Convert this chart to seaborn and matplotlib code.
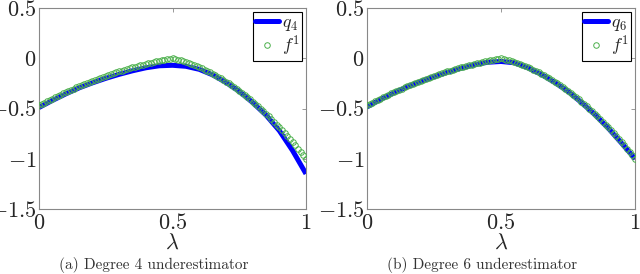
import numpy as np
import pandas as pd
import matplotlib
matplotlib.use("Agg")
import matplotlib.pyplot as plt
import seaborn as sns
from matplotlib.lines import Line2D

sns.set_style("white")
plt.rcParams["mathtext.fontset"] = "cm"
plt.rcParams["font.family"] = ["cmr10", "DejaVu Serif"]

# ---- data ----
lam_f = [i / 100 for i in range(101)]
f1 = [-0.470, -0.456, -0.442, -0.428, -0.415, -0.402, -0.389, -0.376, -0.363, -0.350,
      -0.338, -0.325, -0.314, -0.302, -0.291, -0.279, -0.268, -0.257, -0.246, -0.235,
      -0.225, -0.215, -0.205, -0.195, -0.185, -0.176, -0.166, -0.157, -0.148, -0.140,
      -0.131, -0.123, -0.115, -0.107, -0.099, -0.091, -0.084, -0.077, -0.069, -0.063,
      -0.056, -0.050, -0.043, -0.037, -0.031, -0.026, -0.020, -0.015, -0.010, -0.005,
      0.000,
      -0.006, -0.013, -0.021, -0.028, -0.037, -0.046, -0.056, -0.066, -0.077, -0.088,
      -0.100, -0.112, -0.125, -0.139, -0.153, -0.168, -0.183, -0.199, -0.215, -0.232,
      -0.249, -0.268, -0.286, -0.305, -0.325, -0.345, -0.366, -0.388, -0.409, -0.432,
      -0.455, -0.479, -0.503, -0.528, -0.553, -0.579, -0.605, -0.632, -0.660, -0.688,
      -0.717, -0.746, -0.776, -0.806, -0.837, -0.868, -0.901, -0.933, -0.966, -1.000]

lam_q = [0.00, 0.05, 0.10, 0.15, 0.20, 0.25, 0.30, 0.35, 0.40, 0.45, 0.50,
         0.55, 0.60, 0.65, 0.70, 0.75, 0.80, 0.85, 0.90, 0.95, 1.00]
q4 = [-0.490, -0.420, -0.355, -0.295, -0.245, -0.200, -0.160, -0.125, -0.095, -0.075, -0.070,
      -0.080, -0.110, -0.165, -0.240, -0.330, -0.440, -0.565, -0.720, -0.920, -1.150]
q6 = [-0.485, -0.410, -0.345, -0.285, -0.232, -0.185, -0.140, -0.100, -0.065, -0.040, -0.032,
      -0.045, -0.095, -0.160, -0.240, -0.330, -0.440, -0.560, -0.695, -0.845, -1.000]

x_ticks = [0, 0.5, 1]
x_ticklabels = ["$0$", "$0.5$", "$1$"]
y_ticks = [0.5, 0, -0.5, -1, -1.5]
y_ticklabels = ["$0.5$", "$0$", "$-0.5$", "$-1$", "$-1.5$"]
panels = [("$q_4$", q4, "(a) Degree 4 underestimator"),
          ("$q_6$", q6, "(b) Degree 6 underestimator")]

blue = "#0000ff"
green = "#4cb04c"
spine_gray = "#888888"

fig = plt.figure(figsize=(6.4, 2.74), dpi=100)
rects = [[39 / 640, 65 / 274, 267 / 640, 201 / 274],
         [367 / 640, 65 / 274, 268 / 640, 201 / 274]]
cap_x = [154 / 640, 482 / 640]

df_f = pd.DataFrame({"lam": lam_f, "f": f1})

for (qlab, qvals, caption), rect, cx in zip(panels, rects, cap_x):
    ax = fig.add_axes(rect)
    df_q = pd.DataFrame({"lam": lam_q, "q": qvals})
    sns.lineplot(data=df_q, x="lam", y="q", ax=ax, color=blue, lw=3.6,
                 solid_capstyle="butt", zorder=2)
    sns.lineplot(data=df_f, x="lam", y="f", ax=ax, linestyle="none", marker="o",
                 markersize=4.0, markerfacecolor="none", markeredgecolor=green,
                 markeredgewidth=0.7, color=green, zorder=3)
    ax.set_xlim(0, 1)
    ax.set_ylim(-1.5, 0.5)
    ax.set_xticks(x_ticks)
    ax.set_xticklabels(x_ticklabels, fontsize=16)
    ax.set_yticks(y_ticks)
    ax.set_yticklabels(y_ticklabels, fontsize=16)
    ax.tick_params(direction="in", length=3, width=0.6, color=spine_gray,
                   top=True, right=True, pad=2)
    ax.tick_params(axis="x", pad=3)
    for s in ax.spines.values():
        s.set_color(spine_gray)
        s.set_linewidth(0.8)
    ax.set_xlabel(r"$\lambda$", fontsize=16, labelpad=0)
    ax.set_ylabel("")
    handles = [Line2D([], [], color=blue, lw=3.6),
               Line2D([], [], linestyle="none", marker="o", markersize=4.0,
                      markerfacecolor="none", markeredgecolor=green, markeredgewidth=0.7)]
    leg = ax.legend(handles, [qlab, "$f^1$"], loc="upper right", fontsize=13,
                    frameon=True, fancybox=False, framealpha=1, edgecolor="black",
                    borderpad=0.15, handlelength=1.3, handletextpad=0.15,
                    labelspacing=0.05, borderaxespad=0.2)
    leg.get_frame().set_linewidth(0.8)
    fig.text(cx, 9 / 274, caption, ha="center", va="center", fontsize=11,
             color="#333333")

fig.savefig("out.png", dpi=100)
